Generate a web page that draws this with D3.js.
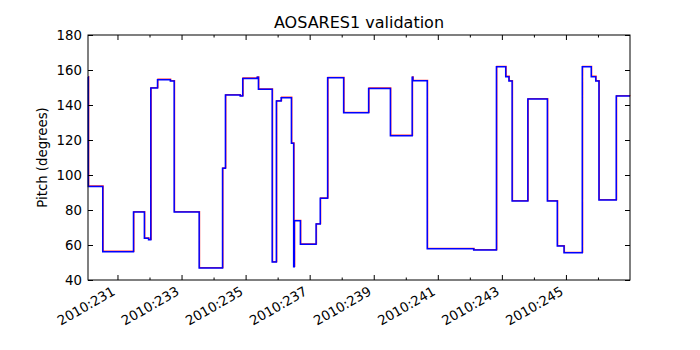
<!DOCTYPE html>
<html>
<head>
<meta charset="utf-8">
<script src="https://cdn.jsdelivr.net/npm/d3@7"></script>
<style>
    body { margin: 0; background: white; }
    text { font-family: "DejaVu Sans", sans-serif; }
</style>
</head>
<body>
<script>
// day of year 2010 (fractional) where each step starts
let stepDays = [230.08, 230.09, 230.54, 231.50, 231.84, 231.97, 232.04, 232.25, 232.65, 232.77,
    233.55, 234.28, 234.37, 234.83, 234.91, 235.36, 235.40, 235.83, 235.96, 236.11,
    236.43, 236.50, 236.52, 236.71, 237.20, 237.33, 237.56, 238.06, 238.84, 239.52,
    240.20, 240.22, 240.67, 242.12, 242.83, 243.12, 243.22, 243.32, 243.81, 244.42,
    244.73, 244.94, 245.51, 245.79, 245.93, 246.03, 246.57, 247.00];

// pitch (degrees) for each step
let pitchValues = [156.0, 93.5, 56.2, 78.9, 63.8, 63.0, 149.7, 154.5, 153.7, 78.9,
    46.9, 103.8, 145.7, 145.1, 155.2, 155.8, 149.0, 50.3, 142.3, 144.2,
    118.1, 47.6, 73.9, 60.4, 72.0, 86.7, 155.6, 135.6, 149.5, 122.5,
    155.8, 153.9, 57.9, 57.1, 161.9, 156.2, 153.7, 85.1, 143.4, 85.1,
    59.4, 55.6, 161.9, 156.2, 153.7, 85.7, 145.1, 145.1];

let yTicks = [40, 60, 80, 100, 120, 140, 160, 180];
let labelDays = [231, 233, 235, 237, 239, 241, 243, 245];
let minorDays = [232, 234, 236, 238, 240, 242, 244, 246];

function main(){
    let width = 700;
    let height = 350;
    let left = 88, right = 630, top = 35, bottom = 280;

    let svg = d3.select("body").append("svg")
        .attr("width", width)
        .attr("height", height)
        .style("background-color", "white");

    let data = stepDays.map(function(d, i){
        return {day: d, pitch: pitchValues[i]};
    });

    let xScale = d3.scaleLinear().domain(d3.extent(stepDays)).range([left, right]);
    let yScale = d3.scaleLinear().domain([40, 180]).range([bottom, top]);

    let line = d3.line()
        .x(function(d){ return xScale(d.day); })
        .y(function(d){ return yScale(d.pitch); })
        .curve(d3.curveStepAfter);

    let plot = svg.append("g");

    // predicted (red) under telemetry (blue)
    plot.append("path")
        .datum(data)
        .attr("transform", "translate(0.4,-0.4)")
        .attr("fill", "none")
        .attr("stroke", "#ff0000")
        .attr("stroke-opacity", 0.8)
        .attr("stroke-width", 1.3)
        .attr("d", line);

    plot.append("path")
        .datum(data)
        .attr("fill", "none")
        .attr("stroke", "#0000ff")
        .attr("stroke-width", 1.5)
        .attr("d", line);

    // ticks pointing inward on all four sides
    svg.append("g").attr("transform", "translate(0," + bottom + ")")
        .call(d3.axisBottom(xScale).tickValues(labelDays).tickSizeInner(-5).tickFormat(""));
    svg.append("g").attr("transform", "translate(0," + bottom + ")")
        .call(d3.axisBottom(xScale).tickValues(minorDays).tickSizeInner(-2.5).tickFormat(""));
    svg.append("g").attr("transform", "translate(0," + top + ")")
        .call(d3.axisTop(xScale).tickValues(labelDays).tickSizeInner(-5).tickFormat(""));
    svg.append("g").attr("transform", "translate(0," + top + ")")
        .call(d3.axisTop(xScale).tickValues(minorDays).tickSizeInner(-2.5).tickFormat(""));

    svg.append("g").attr("transform", "translate(" + left + ",0)")
        .call(d3.axisLeft(yScale).tickValues(yTicks).tickSizeInner(-5).tickFormat(""));
    svg.append("g").attr("transform", "translate(" + right + ",0)")
        .call(d3.axisRight(yScale).tickValues(yTicks).tickSizeInner(-5).tickFormat(""));

    svg.selectAll(".domain").remove();
    svg.selectAll(".tick line").attr("stroke", "black").attr("stroke-width", 1);

    // frame
    svg.append("rect")
        .attr("x", left)
        .attr("y", top)
        .attr("width", right - left)
        .attr("height", bottom - top)
        .attr("fill", "none")
        .attr("stroke", "black")
        .attr("stroke-width", 1);

    // y tick labels
    svg.selectAll(".ylab")
        .data(yTicks)
        .enter()
        .append("text")
        .attr("class", "ylab")
        .attr("x", left - 6)
        .attr("y", function(d){ return yScale(d); })
        .attr("dy", "0.36em")
        .attr("text-anchor", "end")
        .attr("font-size", 13.3)
        .text(function(d){ return d; });

    // x tick labels, rotated like autofmt_xdate
    svg.selectAll(".xlab")
        .data(labelDays)
        .enter()
        .append("text")
        .attr("class", "xlab")
        .attr("transform", function(d){
            return "translate(" + (xScale(d) - 1.5) + "," + (bottom + 14) + ") rotate(-30)";
        })
        .attr("text-anchor", "end")
        .attr("font-size", 13.3)
        .text(function(d){ return "2010:" + d; });

    svg.append("text")
        .attr("x", (left + right) / 2)
        .attr("y", 28)
        .attr("text-anchor", "middle")
        .attr("font-size", 16)
        .text("AOSARES1 validation");

    svg.append("text")
        .attr("transform", "translate(47," + (top + bottom) / 2 + ") rotate(-90)")
        .attr("text-anchor", "middle")
        .attr("font-size", 13.3)
        .text("Pitch (degrees)");
}

main();
</script>
</body>
</html>
